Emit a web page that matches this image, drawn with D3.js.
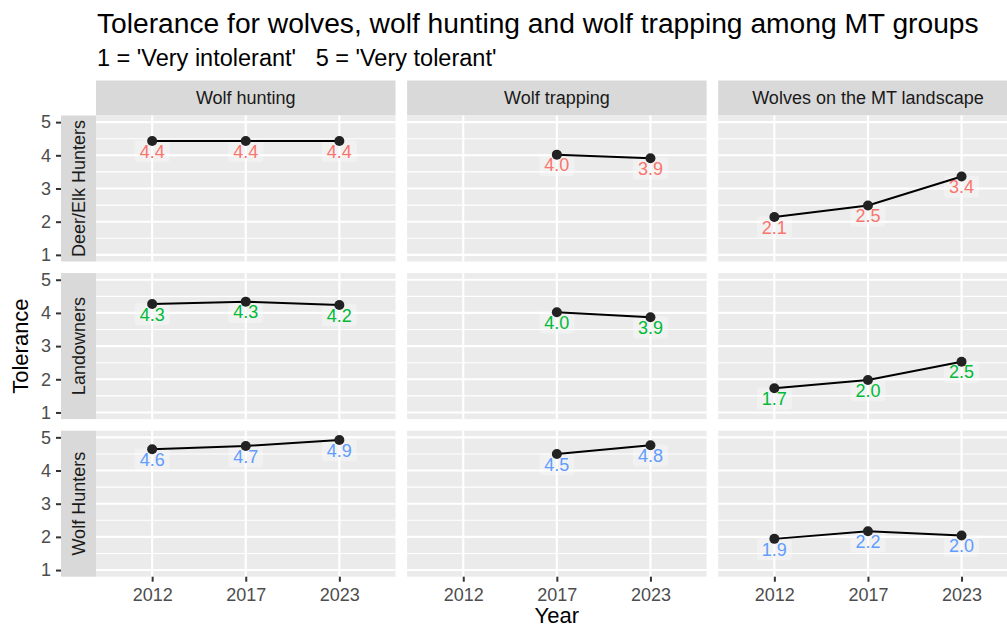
<!DOCTYPE html>
<html>
<head>
<meta charset="utf-8">
<script src="https://cdn.jsdelivr.net/npm/d3@7"></script>
<style>
  body { margin: 0; background: #fff; }
  svg text { font-family: "Liberation Sans", Arial, sans-serif; }
</style>
</head>
<body>
<svg id="chart"></svg>
<script>
var width = 1007,
    height = 628;

// Facets and categories
var years = ['2012', '2017', '2023'];
var topics = ['Wolf hunting', 'Wolf trapping', 'Wolves on the MT landscape'];
var groups = ['Deer/Elk Hunters', 'Landowners', 'Wolf Hunters'];
var groupColors = ['#F8766D', '#00BA38', '#619CFF'];
var yTicks = [1, 2, 3, 4, 5];
var yMinor = [1.5, 2.5, 3.5, 4.5];

// Mean tolerance per topic (rows follow topics), null = not asked that year
var deerElkValues = [[4.43, 4.43, 4.43], [null, 4.02, 3.91], [2.14, 2.49, 3.36]];
var landownerValues = [[4.27, 4.34, 4.24], [null, 4.02, 3.87], [1.73, 1.98, 2.53]];
var wolfHunterValues = [[4.64, 4.74, 4.92], [null, 4.50, 4.76], [1.94, 2.17, 2.04]];
var groupValues = [deerElkValues, landownerValues, wolfHunterValues];

// Layout
var panelLeft = 96,
    panelTop = 115.5,
    panelW = 299.5,
    panelH = 146,
    gap = 11.6,
    stripW = 35,
    stripH = 35;

var x = d3.scalePoint().domain(years).range([0, panelW]).padding(0.6);
var y = d3.scaleLinear().domain([0.8, 5.2]).range([panelH, 0]);

var svg = d3.select('#chart')
    .attr('width', width)
    .attr('height', height);

svg.append('rect').attr('width', width).attr('height', height).attr('fill', '#fff');

// Title and subtitle
svg.append('text')
    .attr('x', 97).attr('y', 33)
    .style('font-size', '28.2px').attr('fill', '#000')
    .text('Tolerance for wolves, wolf hunting and wolf trapping among MT groups');
svg.append('text')
    .attr('x', 97).attr('y', 66)
    .style('font-size', '23.5px').attr('fill', '#000')
    .attr('xml:space', 'preserve')
    .text("1 = 'Very intolerant'   5 = 'Very tolerant'");

function colX(c) { return panelLeft + c * (panelW + gap); }
function rowY(r) { return panelTop + r * (panelH + gap); }

// Column strips
topics.forEach(function (t, c) {
    svg.append('rect')
        .attr('x', colX(c)).attr('y', panelTop - stripH)
        .attr('width', panelW).attr('height', stripH)
        .attr('fill', '#D9D9D9');
    svg.append('text')
        .attr('x', colX(c) + panelW / 2).attr('y', panelTop - stripH / 2)
        .attr('dy', '0.35em')
        .attr('text-anchor', 'middle')
        .style('font-size', '18px').attr('fill', '#1A1A1A')
        .text(t);
});

groups.forEach(function (grp, r) {
    var top = rowY(r);

    // Row strip, between axis and panel
    svg.append('rect')
        .attr('x', panelLeft - stripW).attr('y', top)
        .attr('width', stripW).attr('height', panelH)
        .attr('fill', '#D9D9D9');
    svg.append('text')
        .attr('transform', 'translate(' + (panelLeft - stripW / 2) + ',' + (top + panelH / 2) + ')rotate(-90)')
        .attr('dy', '0.35em')
        .attr('text-anchor', 'middle')
        .style('font-size', '18px').attr('fill', '#1A1A1A')
        .text(grp);

    // Y axis
    var ay = svg.append('g')
        .attr('transform', 'translate(' + (panelLeft - stripW) + ',' + top + ')')
        .call(d3.axisLeft(y).tickValues(yTicks).tickFormat(d3.format('d')).tickSize(5).tickPadding(5));
    ay.select('.domain').remove();
    ay.selectAll('line').attr('stroke', '#333').attr('stroke-width', 2);
    ay.selectAll('text').style('font-size', '18px').attr('fill', '#4D4D4D');

    topics.forEach(function (t, c) {
        var g = svg.append('g')
            .attr('transform', 'translate(' + colX(c) + ',' + top + ')');

        g.append('rect')
            .attr('width', panelW).attr('height', panelH)
            .attr('fill', '#EBEBEB');

        g.selectAll('.minor').data(yMinor).enter().append('line')
            .attr('x1', 0).attr('x2', panelW)
            .attr('y1', y).attr('y2', y)
            .attr('stroke', '#fff').attr('stroke-width', 1.1);
        g.selectAll('.majory').data(yTicks).enter().append('line')
            .attr('x1', 0).attr('x2', panelW)
            .attr('y1', y).attr('y2', y)
            .attr('stroke', '#fff').attr('stroke-width', 2.1);
        g.selectAll('.majorx').data(years).enter().append('line')
            .attr('x1', x).attr('x2', x)
            .attr('y1', 0).attr('y2', panelH)
            .attr('stroke', '#fff').attr('stroke-width', 2.1);

        var vals = groupValues[r][c];
        var pts = years.map(function (yr, i) { return { year: yr, v: vals[i] }; })
            .filter(function (d) { return d.v !== null; });

        // Labels (nudged below the points)
        var lab = g.selectAll('.lab').data(pts).enter().append('g')
            .attr('transform', function (d) { return 'translate(' + x(d.year) + ',' + y(d.v - 0.31) + ')'; });
        lab.append('rect');
        var txt = lab.append('text')
            .attr('text-anchor', 'middle')
            .attr('dy', '0.36em')
            .style('font-size', '18px')
            .attr('fill', groupColors[r])
            .text(function (d) { return d.v.toFixed(1); });
        txt.each(function () {
            var w = this.getComputedTextLength();
            d3.select(this.parentNode).select('rect')
                .attr('x', -w / 2 - 5).attr('y', -11)
                .attr('width', w + 10).attr('height', 22)
                .attr('rx', 3)
                .attr('fill', '#fff').attr('fill-opacity', 0.3);
        });

        var line = d3.line()
            .x(function (d) { return x(d.year); })
            .y(function (d) { return y(d.v); });
        g.append('path')
            .datum(pts)
            .attr('d', line)
            .attr('fill', 'none')
            .attr('stroke', '#000')
            .attr('stroke-width', 2);

        g.selectAll('.pt').data(pts).enter().append('circle')
            .attr('cx', function (d) { return x(d.year); })
            .attr('cy', function (d) { return y(d.v); })
            .attr('r', 5)
            .attr('fill', '#222');

        // X axis under the bottom row
        if (r === groups.length - 1) {
            var ax = svg.append('g')
                .attr('transform', 'translate(' + colX(c) + ',' + (top + panelH) + ')')
                .call(d3.axisBottom(x).tickSize(5).tickPadding(7));
            ax.select('.domain').remove();
            ax.selectAll('line').attr('stroke', '#333').attr('stroke-width', 2);
            ax.selectAll('text').style('font-size', '18px').attr('fill', '#4D4D4D');
        }
    });
});

// Axis titles
svg.append('text')
    .attr('x', panelLeft + (3 * panelW + 2 * gap) / 2).attr('y', 623)
    .attr('text-anchor', 'middle')
    .style('font-size', '22px').attr('fill', '#000')
    .text('Year');
svg.append('text')
    .attr('transform', 'translate(28,' + (panelTop + (3 * panelH + 2 * gap) / 2) + ')rotate(-90)')
    .attr('text-anchor', 'middle')
    .style('font-size', '22px').attr('fill', '#000')
    .text('Tolerance');
</script>
</body>
</html>
